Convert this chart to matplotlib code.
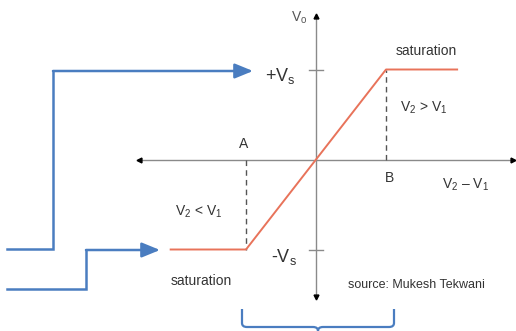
import matplotlib.pyplot as plt
from matplotlib.path import Path
from matplotlib.patches import PathPatch

plt.rcParams['font.family'] = ['Liberation Sans', 'DejaVu Sans']
plt.rcParams['mathtext.fontset'] = 'custom'
plt.rcParams['mathtext.rm'] = 'Liberation Sans'

# transfer characteristic of the comparator (units: A/B = +-1, Vs = +-1)
vin = [-2.09, -1.0, 1.0, 2.03]
vout = [-1.0, -1.0, 1.0, 1.0]
point_A = -1.0
point_B = 1.0
vs = 1.0

# axis extents
x_axis = [-2.53, 2.81]
y_axis = [-1.53, 1.59]

# blue callout arrows and brace (pixel coords of the slide)
arrow_up_x = [7, 53, 53, 253]
arrow_up_y = [249, 249, 71, 71]
arrow_lo_x = [7, 86, 86, 160]
arrow_lo_y = [289, 289, 250, 250]

orange = '#e8735a'
blue = '#4a7dc0'
grey = '#8a8a8a'
txt = '#333333'

fig = plt.figure(figsize=(5.16, 3.31), dpi=100)
ax = fig.add_axes([0, 0, 1, 1])
ax.set_xlim(-316 / 70, 200 / 70)
ax.set_ylim((159.5 - 331) / 90, 159.5 / 90)
ax.axis('off')

# axes with arrow heads
ax.plot(x_axis, [0, 0], color=grey, lw=1)
ax.plot([0, 0], y_axis, color=grey, lw=1)
ax.plot(x_axis[0], 0, marker='<', color='black', ms=3.5)
ax.plot(x_axis[1], 0, marker='>', color='black', ms=3.5)
ax.plot(0, y_axis[1], marker='^', color='black', ms=3.5)
ax.plot(0, y_axis[0], marker='v', color='black', ms=3.5)
for v in [vs, -vs]:
    ax.plot([-0.1, 0.1], [v, v], color=grey, lw=1)

# dashed guides
ax.plot([point_A, point_A], [0, -vs], color='#555555', lw=1, ls=(0, (4, 3)))
ax.plot([point_B, point_B], [0, vs], color='#555555', lw=1, ls=(0, (4, 3)))

ax.plot(vin, vout, color=orange, lw=1.4, solid_capstyle='butt')

# labels
ax.text(-0.243, 1.572, r'V$_\mathregular{o}$', fontsize=10, color='#555555', ha='center', va='center')
ax.text(1.571, 1.206, 'saturation', fontsize=10, color=txt, ha='center', va='center')
ax.text(-0.514, 0.928, r'+V$_\mathregular{s}$', fontsize=13, color=txt, ha='center', va='center')
ax.text(1.543, 0.572, r'V$_\mathregular{2}$ > V$_\mathregular{1}$', fontsize=10, color=txt, ha='center', va='center')
ax.text(-1.029, 0.172, 'A', fontsize=10, color=txt, ha='center', va='center')
ax.text(1.057, -0.206, 'B', fontsize=10, color=txt, ha='center', va='center')
ax.text(2.129, -0.283, r'V$_\mathregular{2}$ – V$_\mathregular{1}$', fontsize=10, color=txt, ha='center', va='center')
ax.text(-1.671, -0.583, r'V$_\mathregular{2}$ < V$_\mathregular{1}$', fontsize=10, color=txt, ha='center', va='center')
ax.text(-0.457, -1.083, r'-V$_\mathregular{s}$', fontsize=13, color=txt, ha='center', va='center')
ax.text(-1.643, -1.35, 'saturation', fontsize=10, color=txt, ha='center', va='center')
ax.text(1.429, -1.394, 'source: Mukesh Tekwani', fontsize=9, color=txt, ha='center', va='center')

# overlay in pixel coords for the slide decorations
ov = fig.add_axes([0, 0, 1, 1], facecolor='none')
ov.set_xlim(0, 516)
ov.set_ylim(331, 0)
ov.axis('off')

for xs, ys in [(arrow_up_x, arrow_up_y), (arrow_lo_x, arrow_lo_y)]:
    ov.plot(xs[:-1], ys[:-1], color=blue, lw=1.8, solid_joinstyle='miter')
    ov.annotate('', xy=(xs[-1], ys[-1]), xytext=(xs[-2], ys[-2]),
                arrowprops=dict(arrowstyle='-|>,head_length=1.1,head_width=0.45',
                                color=blue, lw=1.8, shrinkA=0, shrinkB=0))

# curly brace under the chart
L, R, T, B, M = 242, 394, 309, 327, 318
verts = [(L, T), (L, B - 4), (L, B), (L + 5, B), (M - 5, B), (M, B), (M, B + 4), (M, 332),
         (M, B + 4), (M, B), (M + 5, B), (R - 5, B), (R, B), (R, B - 4), (R, T)]
codes = [Path.MOVETO, Path.LINETO, Path.CURVE3, Path.CURVE3, Path.LINETO, Path.CURVE3, Path.CURVE3,
         Path.LINETO, Path.MOVETO, Path.CURVE3, Path.CURVE3, Path.LINETO, Path.CURVE3, Path.CURVE3,
         Path.LINETO]
ov.add_patch(PathPatch(Path(verts, codes), facecolor='none', edgecolor=blue, lw=1.6))

fig.savefig('out.png', dpi=100)
